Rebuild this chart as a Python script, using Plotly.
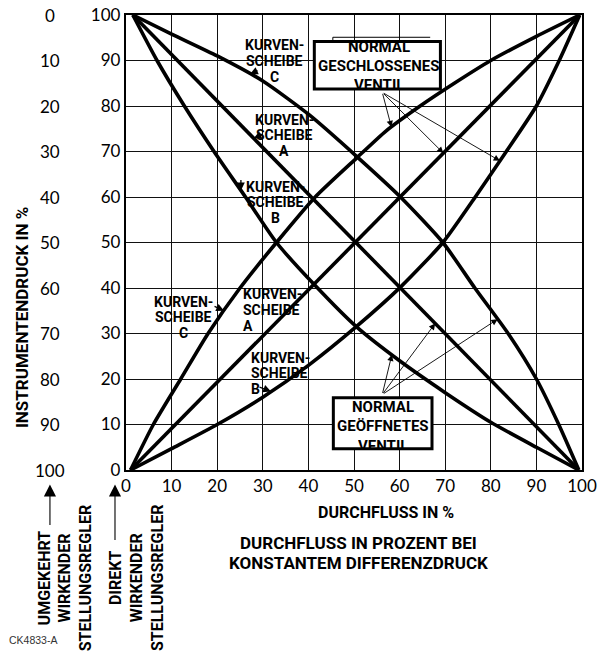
import numpy as np
import plotly.graph_objects as go

# ---------------- data ----------------
tick_values = list(range(0, 101, 10))
reverse_tick_labels = [str(100 - v) for v in tick_values]

# rising curves (normally closed valve)
c_up_x = [1, 6, 12, 18, 25, 33, 41.5, 50.5, 57, 64.5, 72, 80, 90, 99.5]
c_up_y = [0, 10, 20, 30, 40, 50, 60, 68.5, 74.5, 80, 85, 90, 95.3, 100]
a_up_x = [1, 99.5]
a_up_y = [0, 100]
b_up_x = [1, 10, 20, 30, 40, 50.5, 60.3, 69.5, 76.6, 83.4, 90, 95, 99.5]
b_up_y = [0, 4.7, 10, 16, 23, 31.5, 40.3, 50, 60, 70, 80, 90, 100]

# falling curves (normally open valve)
c_down_x = [1.5, 10, 20, 30, 40, 50.5, 60.4, 69.5, 76.5, 83.8, 90, 94.9, 99.3]
c_down_y = [100, 95.8, 91, 85.5, 78.2, 69, 59.8, 50, 40, 30, 20, 10, 0]
a_down_x = [1.5, 99.3]
a_down_y = [100, 0]
b_down_x = [1.5, 6.8, 12.8, 19.3, 26.2, 33, 41.8, 50.5, 60, 70, 80, 90, 99.3]
b_down_y = [100, 90, 80, 70, 60, 50, 40.2, 31.5, 24, 17, 10.5, 5, 0]

curves = [
    (c_up_x, c_up_y), (a_up_x, a_up_y), (b_up_x, b_up_y),
    (c_down_x, c_down_y), (a_down_x, a_down_y), (b_down_x, b_down_y),
]

LBL = "Roboto, Liberation Sans, sans-serif"
NUM = "Lato, DejaVu Sans, sans-serif"

# page-position helpers (fraction of plot area)
def px(p):
    return (p - 126) / 455.7

def py(p):
    return (470.5 - p) / 455.5

# same, in axis units
def dx(p):
    return (p - 126) / 4.557

def dy(p):
    return (470.5 - p) / 4.555

fig = go.Figure()
for cx, cy in curves:
    fig.add_trace(go.Scatter(
        x=cx, y=cy, mode="lines",
        line=dict(color="black", width=3.6, shape="spline", smoothing=0.6),
        hoverinfo="skip", showlegend=False,
    ))

ann = []

# reversed instrument-pressure scale (reverse acting positioner)
for v, lab in zip(tick_values, reverse_tick_labels):
    ann.append(dict(x=px(50), y=v, xref="paper", yref="y", text=lab, showarrow=False,
                    xanchor="center", yanchor="middle",
                    font=dict(family=NUM, size=17, color="black")))

def label(lines, x, y0, align):
    ys = [y0, y0 - 3.45, y0 - 6.9]
    for t, yy in zip(lines, ys):
        ann.append(dict(x=x, y=yy, xref="x", yref="y", text=t, showarrow=False,
                        xanchor=align, yanchor="middle",
                        font=dict(family=LBL, size=14, color="black")))

label(["<b>KURVEN-</b>", "<b>SCHEIBE</b>", "<b>C</b>"], 32.5, 93.3, "center")
label(["<b>KURVEN-</b>", "<b>SCHEIBE</b>", "<b>A</b>"], 34.7, 77.0, "center")
label(["<b>KURVEN-</b>", "<b>SCHEIBE</b>", "<b>B</b>"], 32.7, 62.3, "center")
label(["<b>KURVEN-</b>", "<b>SCHEIBE</b>", "<b>C</b>"], 12.5, 37.0, "center")
label(["<b>KURVEN-</b>", "<b>SCHEIBE</b>", "<b>A</b>"], 25.3, 38.6, "left")
label(["<b>KURVEN-</b>", "<b>SCHEIBE</b>", "<b>B</b>"], 27.0, 24.7, "left")

def on_curve(curve, x):
    cx, cy = curve
    if cx[0] < cx[-1]:
        return float(np.interp(x, cx, cy))
    return float(np.interp(x, cx[::-1], cy[::-1]))

def small_arrow(curve, x, ax, ay):
    ann.append(dict(x=x, y=on_curve(curve, x), xref="x", yref="y", ax=ax, ay=ay, text="",
                    showarrow=True, arrowhead=2, arrowsize=1.2, arrowwidth=1.3,
                    arrowcolor="black"))

small_arrow((c_down_x, c_down_y), 27.2, 9, -4)
small_arrow((a_down_x, a_down_y), 28.0, 9, -4)
small_arrow((b_down_x, b_down_y), 25.2, 0, -12)
small_arrow((c_up_x, c_up_y), 21.5, -11, -5)
small_arrow((b_up_x, b_up_y), 31.8, -13, -5)

# boxes: frame as shapes, text lines as annotations (last line clipped by frame)
box_frames = [
    (dx(314.2), dy(41.5), dx(440.2), dy(89.2)),
    (dx(333.2), dy(398.2), dx(431.8), dy(449.2)),
]
for x0, y0, x1, y1 in box_frames:
    fig.add_shape(type="rect", x0=x0, y0=y0, x1=x1, y1=y1, xref="x", yref="y",
                  fillcolor="white", line=dict(color="black", width=3), layer="above")

def box_lines(lines, xc, centers, clip_bottom):
    for i, (t, c) in enumerate(zip(lines, centers)):
        d = dict(x=dx(xc), xref="x", yref="y", text=t, showarrow=False,
                 xanchor="center", font=dict(family=LBL, size=15, color="black"))
        if i == len(lines) - 1:
            top = c - 9.75
            d.update(y=dy(top), yanchor="top", valign="top", borderpad=0,
                     height=max(4, clip_bottom - top))
        else:
            d.update(y=dy(c), yanchor="middle")
        ann.append(d)

box_lines(["<b>NORMAL</b>", "<b>GESCHLOSSENES</b>", "<b>VENTIL</b>"], 378.5,
          [47.5, 66.5, 84.5], 88.0)
box_lines(["<b>NORMAL</b>", "<b>GEÖFFNETES</b>", "<b>VENTIL</b>"], 382.5,
          [407.5, 426.0, 446.5], 448.0)

def box_arrow(curve, x, tx, ty):
    ann.append(dict(x=x, y=on_curve(curve, x), xref="x", yref="y", ax=tx, ay=ty,
                    axref="x", ayref="y", text="", showarrow=True, arrowhead=2,
                    arrowsize=1.4, arrowwidth=0.9, arrowcolor="black"))

box_arrow((c_up_x, c_up_y), 58.2, 56.2, 83.0)
box_arrow((a_up_x, a_up_y), 69.6, 56.2, 83.0)
box_arrow((b_up_x, b_up_y), 82.0, 56.2, 83.0)
box_arrow((b_down_x, b_down_y), 58.3, 56.2, 16.6)
box_arrow((a_down_x, a_down_y), 67.8, 56.2, 16.6)
box_arrow((c_down_x, c_down_y), 81.5, 56.2, 16.6)

# axis titles and captions (page positions)
def text_at(x, y, t, size, angle=0, fam=LBL, color="black", xanchor="center"):
    ann.append(dict(x=x, y=y, xref="paper", yref="paper", text=t, textangle=angle,
                    showarrow=False, xanchor=xanchor, yanchor="middle",
                    font=dict(family=fam, size=size, color=color)))

text_at(px(21.5), py(318), "<b>INSTRUMENTENDRUCK IN %</b>", 17, -90)
text_at(px(386), py(513), "<b>DURCHFLUSS IN %</b>", 16)
text_at(px(358), py(543.5), "<b>DURCHFLUSS IN PROZENT BEI</b>", 17)
text_at(px(358.5), py(563.5), "<b>KONSTANTEM DIFFERENZDRUCK</b>", 17)
text_at(px(65), py(579), "<b>UMGEKEHRT</b><br><b>WIRKENDER</b><br><b>STELLUNGSREGLER</b>", 16, -90)
text_at(px(136.7), py(579), "<b>DIREKT</b><br><b>WIRKENDER</b><br><b>STELLUNGSREGLER</b>", 16, -90)
text_at(px(7), py(641), "CK4833-A", 10.5, 0, "Liberation Sans, Arial, sans-serif", "#333", "left")

# positioner arrows
for xa, tail in [(50, 42), (115, 57)]:
    ann.append(dict(x=px(xa), y=py(485), xref="paper", yref="paper", ax=0, ay=tail,
                    text="", showarrow=True, arrowhead=2, arrowsize=2.2, arrowwidth=1.1,
                    arrowcolor="black"))

fig.update_layout(annotations=ann)

fig.add_shape(type="path",
              path=f"M {dx(332.7)} {dy(40)} L {dx(332.7)} {dy(37.3)} L {dx(430)} {dy(37.3)}",
              xref="x", yref="y", line=dict(color="black", width=1))

axis_common = dict(
    range=[0, 100], tickvals=tick_values, showgrid=True, gridcolor="#111", gridwidth=1.1,
    showline=True, linecolor="black", linewidth=2.4, mirror=True, zeroline=False,
    ticks="", ticklen=0, automargin=False, ticklabeloverflow="allow",
    tickfont=dict(family=NUM, size=17, color="black"), fixedrange=True,
)
fig.update_xaxes(**axis_common, ticklabelstandoff=-1)
fig.update_yaxes(**axis_common, ticklabelstandoff=0)

fig.update_layout(
    width=608, height=654,
    margin=dict(l=118, r=34, t=7, b=191.5),
    paper_bgcolor="white", plot_bgcolor="white",
    showlegend=False,
)

fig.write_html("out.html")
